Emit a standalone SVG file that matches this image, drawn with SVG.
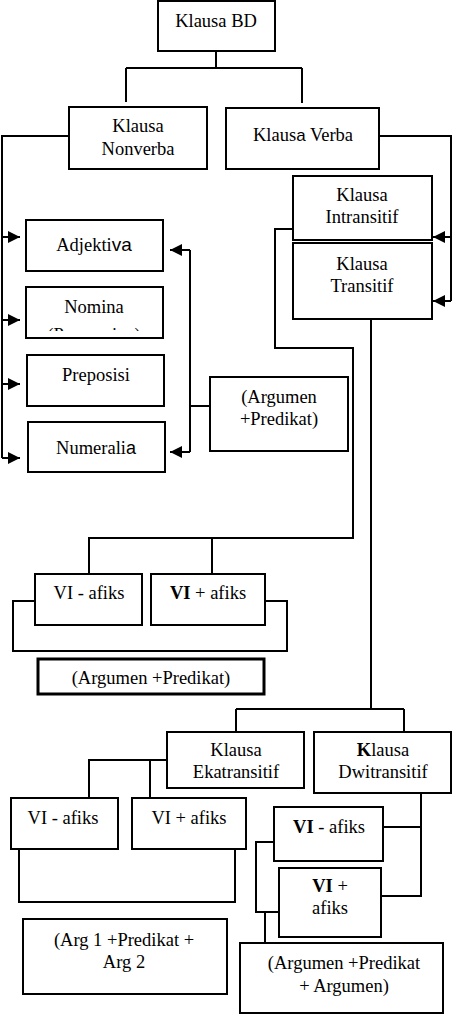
<svg xmlns="http://www.w3.org/2000/svg" width="452" height="1014" viewBox="0 0 452 1014">
<style>
.box{fill:#fff;stroke:#000;stroke-width:2}
.thick{stroke-width:3}
.ln{fill:none;stroke:#000;stroke-width:2}
text{font-family:"Liberation Serif","Times New Roman",serif;font-size:18.5px;fill:#000;text-anchor:middle}
.alt{font-family:"Liberation Sans",Arial,sans-serif}
.b{font-weight:bold}
</style>
<defs>
<marker id="arr" markerUnits="userSpaceOnUse" markerWidth="13" markerHeight="12" refX="12" refY="6" orient="auto">
<path d="M0,0 L12,6 L0,12 z" fill="#000"/>
</marker>
<clipPath id="nomclip"><rect x="27" y="288" width="135" height="43"/></clipPath>
</defs>
<rect width="452" height="1014" fill="#fff"/>
<g id="connectors">
<path class="ln" d="M216,51 V68 M126,68 H302 M126,68 V102 M302,68 V103"/>
<path class="ln" d="M69,136 H2 V458"/>
<path class="ln" marker-end="url(#arr)" d="M2,237 H20"/>
<path class="ln" marker-end="url(#arr)" d="M2,320 H20"/>
<path class="ln" marker-end="url(#arr)" d="M2,384 H20"/>
<path class="ln" marker-end="url(#arr)" d="M2,458 H20"/>
<path class="ln" d="M379,136 H451 V301"/>
<path class="ln" marker-end="url(#arr)" d="M451,237 H433"/>
<path class="ln" marker-end="url(#arr)" d="M451,301 H433"/>
<path class="ln" d="M210,406 H190 M190,250 V452"/>
<path class="ln" marker-end="url(#arr)" d="M190,250 H170"/>
<path class="ln" marker-end="url(#arr)" d="M190,452 H170"/>
<path class="ln" d="M293,229 H275 V348 H353 V538 H89 V574 M212,538 V574"/>
<path class="ln" d="M35,601 H13 V651 H287 V601 H265"/>
<path class="ln" d="M371,319 V709 M236,709 H404 M236,709 V732 M404,709 V732"/>
<path class="ln" d="M167,760 H89 V798 M150,760 V798"/>
<path class="ln" d="M235,849 V902 H19"/>
<path class="ln" stroke-width="3" d="M19,849 V903"/>
<path class="ln" d="M421,793 V896 H381 M421,827 H383"/>
<path class="ln" d="M274,842 H256 V912 H279 M265,912 V943"/>
</g>
<g id="n-bd"><rect class="box" x="158" y="1" width="117" height="50"/><text x="216" y="27">Klausa BD</text></g>
<g id="n-nonverba"><rect class="box" x="69" y="107" width="138" height="62"/><text x="138" y="132">Klausa</text><text x="138" y="155">Nonverba</text></g>
<g id="n-verba"><rect class="box" x="226" y="108" width="153" height="61"/><text x="303" y="141">Klaus<tspan class="alt" font-size="17">a</tspan> Verba</text></g>
<g id="n-intransitif"><rect class="box" x="293" y="176" width="139" height="64"/><text x="362" y="201">Klausa</text><text x="362" y="223">Intransitif</text></g>
<g id="n-transitif"><rect class="box" x="293" y="243" width="139" height="76"/><text x="362" y="270">Klausa</text><text x="362" y="292">Transitif</text></g>
<g id="n-adjektiva"><rect class="box" x="26" y="220" width="137" height="51"/><text x="94" y="251">Adjekti<tspan class="alt" font-size="19">va</tspan></text></g>
<g id="n-nomina"><rect class="box" x="26" y="287" width="137" height="51"/><text x="94" y="313">Nomina</text><text x="94" y="341" clip-path="url(#nomclip)">(Pronomina)</text></g>
<g id="n-preposisi"><rect class="box" x="27" y="355" width="137" height="51"/><text x="96" y="381">Preposisi</text></g>
<g id="n-numeralia"><rect class="box" x="28" y="422" width="137" height="50"/><text x="96" y="454">Numerali<tspan class="alt" font-size="18">a</tspan></text></g>
<g id="n-argpred1"><rect class="box" x="210" y="377" width="138" height="74"/><text x="279" y="403">(Argumen</text><text x="279" y="425">+Predikat)</text></g>
<g id="n-vi-minus-1"><rect class="box" x="35" y="574" width="107" height="51"/><text x="89" y="599">VI - afiks</text></g>
<g id="n-vi-plus-1"><rect class="box" x="151" y="574" width="114" height="51"/><text x="208" y="599"><tspan class="b">VI</tspan> + afiks</text></g>
<g id="n-argpred2"><rect class="box thick" x="38" y="659" width="226" height="35"/><text x="151" y="684">(Argumen +Predikat)</text></g>
<g id="n-ekatransitif"><rect class="box" x="167" y="732" width="137" height="56"/><text x="236" y="756">Klausa</text><text x="236" y="778">Ekatransitif</text></g>
<g id="n-dwitransitif"><rect class="box" x="314" y="732" width="137" height="61"/><text x="383" y="756"><tspan class="b">K</tspan>lausa</text><text x="383" y="778">Dwitransitif</text></g>
<g id="n-vi-minus-2"><rect class="box" x="11" y="798" width="107" height="51"/><text x="63" y="824">VI - afiks</text></g>
<g id="n-vi-plus-2"><rect class="box" x="132" y="798" width="114" height="51"/><text x="189" y="824">VI + afiks</text></g>
<g id="n-arg12"><rect class="box" x="23" y="919" width="204" height="75"/><text x="124" y="946">(Arg 1 +Predikat +</text><text x="124" y="968" font-size="20.5">Arg 2</text></g>
<g id="n-vi-minus-3"><rect class="box" x="274" y="807" width="109" height="54"/><text x="329" y="833"><tspan class="b">VI</tspan> - afiks</text></g>
<g id="n-vi-plus-3"><rect class="box" x="279" y="868" width="102" height="69"/><text x="330" y="892"><tspan class="b">VI</tspan> +</text><text x="330" y="914">afiks</text></g>
<g id="n-argpredarg"><rect class="box" x="240" y="943" width="203" height="70"/><text x="344" y="969">(Argumen +Predikat</text><text x="344" y="992">+ Argumen)</text></g>
</svg>
